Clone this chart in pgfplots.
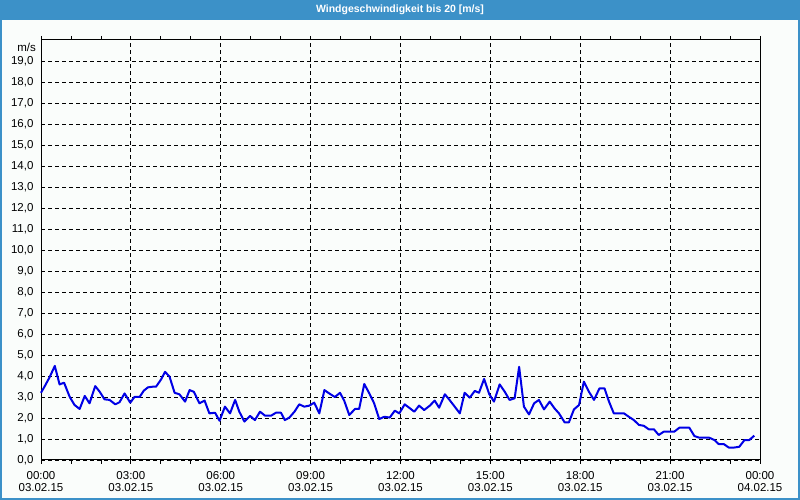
\documentclass[border=0pt]{standalone}
\usepackage{pgfplots}
\pgfplotsset{compat=1.18}
\usepackage{fontspec}
\setmainfont{Liberation Sans}
\definecolor{barblue}{RGB}{60,145,200}
\definecolor{bgc}{RGB}{250,253,251}
\definecolor{lineblue}{RGB}{0,0,230}
\begin{document}
\begin{tikzpicture}[x=1pt,y=1pt]
\fill[bgc] (0,0) rectangle (800,500);
\fill[barblue] (0,480) rectangle (800,500);
\draw[barblue,line width=2pt] (1,1) rectangle (799,499);
\node[white,font=\fontsize{10.5}{13}\selectfont\bfseries] at (400,490) {Windgeschwindigkeit bis 20 [m/s]};
\begin{axis}[
  at={(41pt,40pt)}, anchor=south west,
  scale only axis, width=719pt, height=420pt,
  xmin=0, xmax=24, ymin=0, ymax=20,
  axis line style={black, line width=1pt},
  xtick={0,3,...,24},
  xticklabels={{00:00\\03.02.15},{03:00\\03.02.15},{06:00\\03.02.15},{09:00\\03.02.15},{12:00\\03.02.15},{15:00\\03.02.15},{18:00\\03.02.15},{21:00\\03.02.15},{00:00\\04.02.15}},
  xticklabel style={align=center, font=\fontsize{11.5}{12}\selectfont, yshift=-4pt},
  minor x tick num=2,
  ytick={0,1,...,19},
  yticklabel style={font=\fontsize{11.5}{13}\selectfont},
  /pgf/number format/.cd, use comma, fixed, fixed zerofill, precision=1, assume math mode=true,
  /pgfplots/.cd,
  tick align=outside,
  major tick length=4pt, minor tick length=4pt,
  ytick style={draw=none},
  xtick style={black, line width=0.8pt},
  xmajorgrids, ymajorgrids,
  major grid style={black, line width=0.8pt, dash pattern=on 4pt off 3pt},
  clip=false,
]
\addplot[lineblue, line width=2pt, line join=round] coordinates {
(0.00,3.20) (0.12,3.50) (0.29,3.95) (0.46,4.48) (0.62,3.60) (0.77,3.68) (0.96,3.00)
(1.12,2.62) (1.29,2.43) (1.46,3.05) (1.62,2.70) (1.81,3.52) (1.96,3.25) (2.12,2.89)
(2.29,2.86) (2.48,2.65) (2.62,2.75) (2.79,3.17) (2.98,2.73) (3.12,3.00) (3.29,3.00)
(3.43,3.30) (3.57,3.46) (3.73,3.49) (3.84,3.49) (4.01,3.84) (4.14,4.20) (4.29,3.97)
(4.46,3.20) (4.62,3.13) (4.81,2.78) (4.96,3.33) (5.10,3.25) (5.29,2.70) (5.46,2.83)
(5.62,2.22) (5.81,2.25) (5.96,1.87) (6.14,2.54) (6.31,2.22) (6.48,2.86) (6.62,2.30)
(6.79,1.83) (6.98,2.10) (7.14,1.90) (7.31,2.30) (7.48,2.11) (7.68,2.11) (7.84,2.25)
(8.01,2.25) (8.14,1.90) (8.29,2.02) (8.46,2.30) (8.62,2.65) (8.79,2.54) (8.96,2.59)
(9.12,2.73) (9.29,2.22) (9.46,3.33) (9.62,3.17) (9.81,3.00) (9.98,3.20) (10.12,2.83)
(10.29,2.14) (10.48,2.43) (10.62,2.43) (10.79,3.62) (10.96,3.17) (11.12,2.70) (11.29,1.95)
(11.46,2.06) (11.64,2.02) (11.81,2.35) (11.96,2.22) (12.14,2.65) (12.29,2.49) (12.46,2.30)
(12.62,2.59) (12.79,2.38) (12.98,2.59) (13.14,2.83) (13.29,2.49) (13.48,3.13) (13.62,2.89)
(13.81,2.54) (13.98,2.22) (14.14,3.20) (14.31,2.97) (14.48,3.29) (14.62,3.20) (14.79,3.86)
(14.96,3.14) (15.12,2.78) (15.31,3.60) (15.48,3.25) (15.64,2.86) (15.81,2.94) (15.96,4.44)
(16.12,2.54) (16.29,2.17) (16.46,2.70) (16.62,2.86) (16.79,2.41) (16.98,2.78) (17.14,2.46)
(17.29,2.22) (17.48,1.79) (17.62,1.79) (17.79,2.41) (17.96,2.62) (18.12,3.73) (18.29,3.25)
(18.46,2.86) (18.64,3.41) (18.81,3.41) (18.96,2.78) (19.12,2.22) (19.29,2.22) (19.46,2.22)
(19.62,2.06) (19.79,1.90) (19.96,1.67) (20.12,1.63) (20.29,1.46) (20.46,1.46) (20.62,1.19)
(20.79,1.35) (20.96,1.35) (21.14,1.35) (21.31,1.54) (21.48,1.54) (21.64,1.54) (21.81,1.14)
(21.98,1.06) (22.14,1.06) (22.31,1.06) (22.48,0.95) (22.62,0.76) (22.79,0.76) (22.96,0.59)
(23.12,0.59) (23.31,0.63) (23.48,0.95) (23.64,0.95) (23.81,1.16)
};
\node[anchor=east, font=\fontsize{11.5}{13}\selectfont, inner sep=0pt] at (rel axis cs:0,1) [xshift=-5pt, yshift=-7pt] {m/s};
\end{axis}
\end{tikzpicture}
\end{document}
